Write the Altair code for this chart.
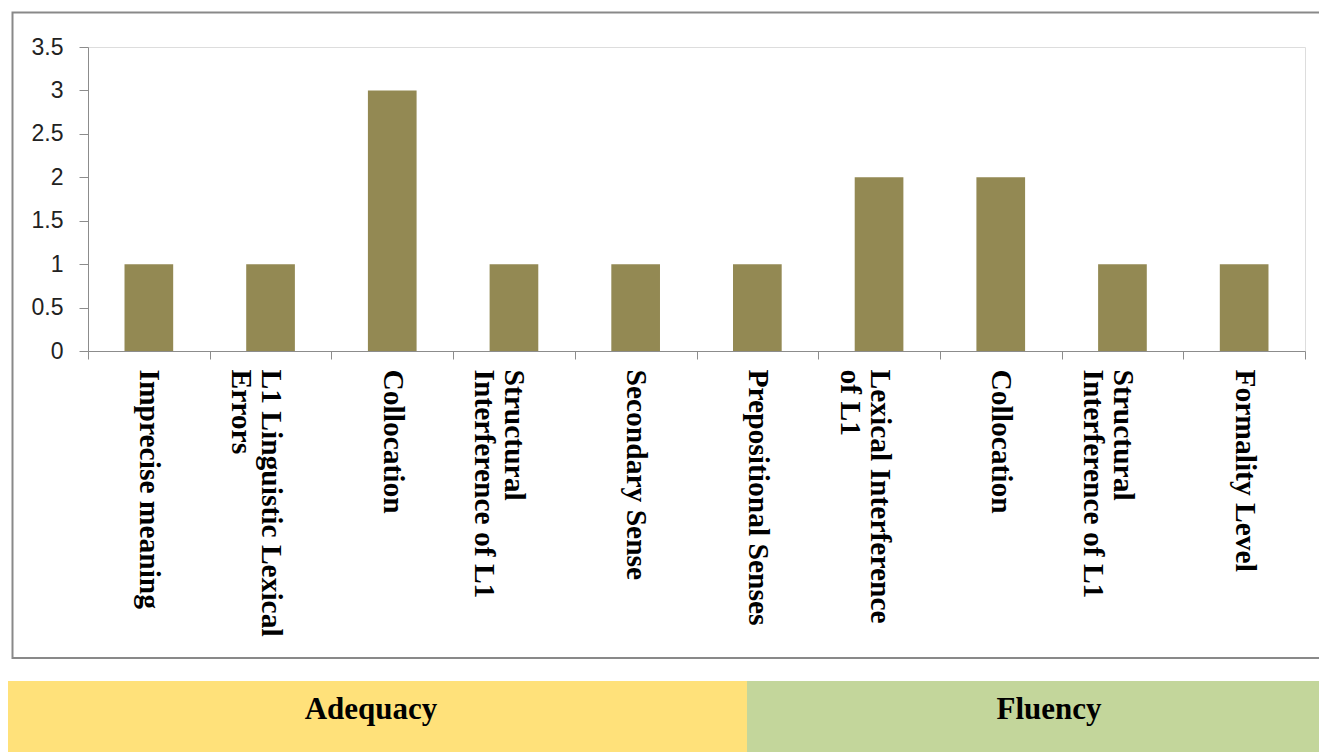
import altair as alt
import pandas as pd

# ---- data ----
labels = [
    ["Imprecise meaning"],
    ["L1 Linguistic Lexical", "Errors"],
    ["Collocation"],
    ["Structural", "Interference of L1"],
    ["Secondary Sense"],
    ["Prepositional Senses"],
    ["Lexical Interference", "of L1"],
    ["Collocation"],
    ["Structural", "Interference of L1"],
    ["Formality Level"],
]
values = [1, 1, 3, 1, 1, 1, 2, 2, 1, 1]
y_ticks = [0, 0.5, 1, 1.5, 2, 2.5, 3, 3.5]
band_names = ["Adequacy", "Fluency"]

# ---- style ----
W, H = 1217, 304
PAD = {"left": 80, "top": 39, "right": 14, "bottom": 401}
BAR_COLOR = "#938953"
AXIS_GRAY = "#8c8c8c"
band_colors = ["#FFE17A", "#C3D69B"]
band_x = [(-80, 659), (659, 1239)]
band_text_x = [283, 961]
band_y = (634, 705)
band_text_y = 663

df = pd.DataFrame({"idx": list(range(len(values))), "value": values})
label_expr = "[" + ",".join(
    "[" + ",".join("'" + s + "'" for s in l) + "]" for l in labels
) + "][datum.value]"

one = pd.DataFrame({"k": [0]})

border = alt.Chart(one).mark_rect(
    fillOpacity=0, stroke="#898989", strokeWidth=2
).encode(
    x=alt.value(-75.5), x2=alt.value(W + 60), y=alt.value(-34.5), y2=alt.value(611)
)

layers = [border]
for i, name in enumerate(band_names):
    bdf = pd.DataFrame({"name": [name]})
    layers.append(
        alt.Chart(bdf).mark_rect(color=band_colors[i]).encode(
            x=alt.value(band_x[i][0]), x2=alt.value(band_x[i][1]),
            y=alt.value(band_y[0]), y2=alt.value(band_y[1]),
        )
    )
    layers.append(
        alt.Chart(bdf).mark_text(
            font="Liberation Serif", fontWeight="bold", fontSize=31,
            align="center", baseline="middle", color="black",
        ).encode(
            x=alt.value(band_text_x[i]), y=alt.value(band_text_y),
            text="name:N",
        )
    )

bars = alt.Chart(df).mark_bar(
    color=BAR_COLOR, width=alt.RelativeBandSize(0.4)
).encode(
    x=alt.X(
        "idx:O",
        scale=alt.Scale(paddingInner=0, paddingOuter=0),
        axis=alt.Axis(
            title=None, labelExpr=label_expr, labelAngle=90, labelAlign="left",
            labelBaseline="middle", labelFont="Liberation Serif",
            labelFontWeight="bold", labelFontSize=29.5, labelLineHeight=30,
            labelColor="black", labelPadding=10, labelLimit=0,
            labelOverlap=False, tickBand="extent", tickSize=8,
            tickColor=AXIS_GRAY, domainColor=AXIS_GRAY,
        ),
    ),
    y=alt.Y(
        "value:Q",
        scale=alt.Scale(domain=[0, 3.5], nice=False),
        axis=alt.Axis(
            title=None, values=y_ticks, format="~g", grid=False,
            labelFont="Liberation Sans", labelFontSize=23, labelColor="#222",
            labelPadding=16, tickSize=9, tickColor=AXIS_GRAY,
            domainColor=AXIS_GRAY,
        ),
    ),
)
layers.append(bars)

chart = alt.layer(*layers).properties(
    width=W, height=H, autosize=alt.AutoSizeParams(type="none"), padding=PAD
).configure_view(stroke=None).configure(background="white")

chart.save("out.html", embed_options={"renderer": "svg", "actions": False})
